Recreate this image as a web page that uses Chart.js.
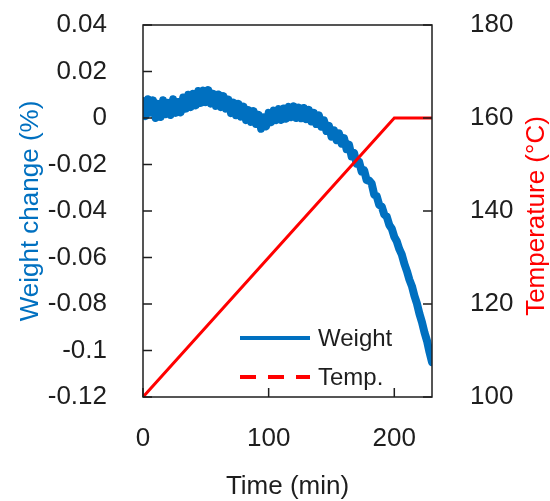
<!DOCTYPE html>
<html>
<head>
<meta charset="utf-8">
<script src="https://cdn.jsdelivr.net/npm/chart.js@4.4.1/dist/chart.umd.min.js"></script>
<style>
  html, body { margin: 0; padding: 0; background: #fff; }
  #wrap { width: 550px; height: 501px; }
</style>
</head>
<body>
<div id="wrap"><canvas id="chart" width="550" height="501"></canvas></div>
<script>
// sampled weight trace (min, %)
const timeMin = [
  0, 2, 4, 6, 8, 10, 12, 14, 16, 18, 20, 22, 24, 26, 28, 30, 32, 34, 36, 38,
  40, 42, 44, 46, 48, 50, 52, 54, 56, 58, 60, 62, 64, 66, 68, 70, 72, 74, 76, 78,
  80, 82, 84, 86, 88, 90, 92, 94, 96, 98, 100, 102, 104, 106, 108, 110, 112, 114, 116, 118,
  120, 122, 124, 126, 128, 130, 132, 134, 136, 138, 140, 142, 144, 146, 148, 150, 152, 154, 156, 158,
  160, 162, 164, 166, 168, 170, 172, 174, 176, 178, 180, 182, 184, 186, 188, 190, 192, 194, 196, 198,
  200, 202, 204, 206, 208, 210, 212, 214, 216, 218, 220, 222, 224, 226, 228, 230
];
const weightPct = [
  0.0073, 0.0008, 0.0081, 0.0023, 0.0076, 0.0000, 0.0061, 0.0004, 0.0076, 0.0016,
  0.0065, 0.0013, 0.0081, 0.0022, 0.0069, 0.0024, 0.0088, 0.0040, 0.0100, 0.0047,
  0.0104, 0.0054, 0.0116, 0.0065, 0.0118, 0.0068, 0.0120, 0.0062, 0.0104, 0.0052,
  0.0101, 0.0047, 0.0094, 0.0040, 0.0079, 0.0021, 0.0066, 0.0012, 0.0061, 0.0006,
  0.0049, -0.0009, 0.0034, -0.0017, 0.0030, -0.0026, 0.0014, -0.0046, 0.0003, -0.0036,
  0.0022, -0.0018, 0.0032, -0.0009, 0.0038, -0.0008, 0.0041, -0.0003, 0.0048, 0.0004,
  0.0050, 0.0000, 0.0045, -0.0001, 0.0043, -0.0005, 0.0035, -0.0015, 0.0022, -0.0026,
  0.0011, -0.0037, -0.0010, -0.0056, -0.0034, -0.0080, -0.0053, -0.0095, -0.0066, -0.0110,
  -0.0087, -0.0134, -0.0115, -0.0165, -0.0150, -0.0196, -0.0188, -0.0230, -0.0225, -0.0268,
  -0.0269, -0.0282, -0.0330, -0.0336, -0.0374, -0.0381, -0.0415, -0.0424, -0.0460, -0.0476,
  -0.0511, -0.0531, -0.0564, -0.0588, -0.0627, -0.0658, -0.0695, -0.0723, -0.0765, -0.0798,
  -0.0842, -0.0878, -0.0922, -0.0958, -0.1007, -0.1050
];
// temperature program (min, °C)
const tempTime = [0, 200, 230];
const tempC = [100, 160, 160];

const weightTicks = [-0.12, -0.1, -0.08, -0.06, -0.04, -0.02, 0, 0.02, 0.04];
const tempTicks = [100, 120, 140, 160, 180];
const timeTicks = [0, 100, 200];

const BLUE = '#0070c0';
const RED = '#ff0000';
const INK = '#1e1e1e';
const FONT = "'Liberation Sans', Arial, sans-serif";

const pairs = (xs, ys) => xs.map((x, i) => ({ x: x, y: ys[i] }));

// keep the plot box where the reference has it
const fixBox = size => s => {
  if (s.isHorizontal()) s.height = size; else s.width = size;
  s.paddingTop = 0; s.paddingBottom = 0; s.paddingLeft = 0; s.paddingRight = 0;
};

// frame, inward tick marks, legend and right-hand title
const decorations = {
  id: 'decorations',
  afterDraw(chart) {
    const { ctx, chartArea: a, scales } = chart;
    ctx.save();
    ctx.strokeStyle = INK;
    ctx.lineWidth = 1.5;
    ctx.strokeRect(a.left, a.top, a.right - a.left, a.bottom - a.top);
    ctx.beginPath();
    scales.y.ticks.forEach(t => {
      const p = scales.y.getPixelForValue(t.value);
      ctx.moveTo(a.left, p); ctx.lineTo(a.left + 9, p);
    });
    scales.y2.ticks.forEach(t => {
      const p = scales.y2.getPixelForValue(t.value);
      ctx.moveTo(a.right, p); ctx.lineTo(a.right - 9, p);
    });
    scales.x.ticks.forEach(t => {
      const p = scales.x.getPixelForValue(t.value);
      ctx.moveTo(p, a.bottom); ctx.lineTo(p, a.bottom - 9);
    });
    ctx.stroke();

    // legend
    const lx = a.left + 97, lw = 70, ty = a.top + 313;
    ctx.font = '24px ' + FONT;
    ctx.textBaseline = 'middle';
    ctx.fillStyle = INK;
    chart.data.datasets.forEach((ds, i) => {
      const y = ty + i * 39;
      ctx.beginPath();
      ctx.strokeStyle = ds.borderColor;
      ctx.lineWidth = 4;
      ctx.setLineDash(i === 1 ? [16, 12] : []);
      ctx.moveTo(lx, y); ctx.lineTo(lx + lw, y);
      ctx.stroke();
      ctx.setLineDash([]);
      ctx.fillText(ds.label, lx + lw + 8, y + 1);
    });

    // right axis title, reading bottom to top
    ctx.translate(537, (a.top + a.bottom) / 2 + 5);
    ctx.rotate(-Math.PI / 2);
    ctx.textAlign = 'center';
    ctx.font = '26px ' + FONT;
    ctx.fillStyle = RED;
    ctx.fillText('Temperature (°C)', 0, 0);
    ctx.restore();
  }
};

new Chart(document.getElementById('chart'), {
  type: 'line',
  data: {
    datasets: [
      {
        label: 'Weight',
        data: pairs(timeMin, weightPct),
        yAxisID: 'y',
        borderColor: BLUE,
        borderWidth: 8,
        borderJoinStyle: 'round',
        borderCapStyle: 'round',
        pointRadius: 0,
        tension: 0,
        order: 1,
      },
      {
        label: 'Temp.',
        data: pairs(tempTime, tempC),
        yAxisID: 'y2',
        borderColor: RED,
        borderWidth: 3,
        pointRadius: 0,
        tension: 0,
        order: 0,
      },
    ],
  },
  options: {
    responsive: false,
    animation: false,
    layout: { padding: { top: 25, left: 0, right: 0, bottom: 0 } },
    plugins: { legend: { display: false }, tooltip: { enabled: false } },
    scales: {
      x: {
        type: 'linear',
        min: 0,
        max: 230,
        afterBuildTicks: s => { s.ticks = timeTicks.map(v => ({ value: v })); },
        afterFit: fixBox(104),
        grid: { display: false },
        border: { display: false },
        ticks: { padding: 18, color: INK, font: { size: 26, family: FONT } },
        title: {
          display: true, text: 'Time (min)', color: INK,
          font: { size: 26, family: FONT, lineHeight: 1 }, padding: { top: 0, bottom: 1 },
        },
      },
      y: {
        position: 'left',
        min: -0.12,
        max: 0.04,
        afterBuildTicks: s => { s.ticks = weightTicks.map(v => ({ value: v })); },
        afterFit: fixBox(143),
        grid: { display: false },
        border: { display: false },
        ticks: { padding: 28, color: INK, font: { size: 26, family: FONT }, callback: v => String(v) },
        title: {
          display: true, text: 'Weight change (%)', color: BLUE,
          font: { size: 26, family: FONT, lineHeight: 1 }, padding: { top: 18, bottom: 0 },
        },
      },
      y2: {
        position: 'right',
        min: 100,
        max: 180,
        afterBuildTicks: s => { s.ticks = tempTicks.map(v => ({ value: v })); },
        afterFit: fixBox(118),
        grid: { display: false },
        border: { display: false },
        ticks: { padding: 30, color: INK, font: { size: 26, family: FONT } },
      },
    },
  },
  plugins: [decorations],
});
</script>
</body>
</html>
